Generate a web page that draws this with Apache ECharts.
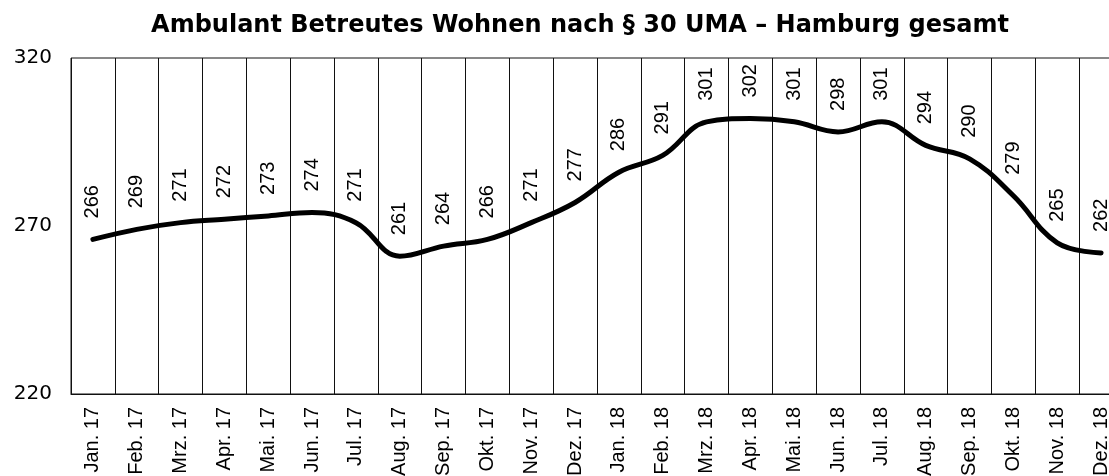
<!DOCTYPE html>
<html>
<head>
<meta charset="utf-8">
<title>Ambulant Betreutes Wohnen nach § 30 UMA</title>
<script src="https://cdn.jsdelivr.net/npm/echarts@6/dist/echarts.min.js"></script>
<style>
  html, body { margin: 0; padding: 0; background: #fff; overflow: hidden; }
  #linePlot { width: 1125px; height: 476px; }
</style>
</head>
<body>
<div id="linePlot"></div>
<script>
const chartTitle = "Ambulant Betreutes Wohnen nach § 30 UMA – Hamburg gesamt";

const months = [
  "Jan. 17", "Feb. 17", "Mrz. 17", "Apr. 17", "Mai. 17", "Jun. 17",
  "Jul. 17", "Aug. 17", "Sep. 17", "Okt. 17", "Nov. 17", "Dez. 17",
  "Jan. 18", "Feb. 18", "Mrz. 18", "Apr. 18", "Mai. 18", "Jun. 18",
  "Jul. 18", "Aug. 18", "Sep. 18", "Okt. 18", "Nov. 18", "Dez. 18",
];

const cases = [
  266, 269, 271, 272, 273, 274, 271, 261, 264, 266, 271, 277,
  286, 291, 301, 302, 301, 298, 301, 294, 290, 279, 265, 262,
];

const yTicks = { min: 220, max: 320, step: 50 };

const renderLine = () => {
  var chartDom = document.getElementById("linePlot");
  var myChart = echarts.init(chartDom);
  var option;

  option = {
    animation: false,
    title: {
      text: chartTitle,
      left: 575,
      top: 9,
      textAlign: "center",
      textStyle: {
        fontFamily: "DejaVu Sans",
        fontWeight: "bold",
        fontSize: 24,
        color: "#000",
      },
    },
    grid: {
      left: 71,
      right: 2,
      top: 58,
      bottom: 82,
      outerBoundsMode: "none",
      containLabel: false,
      show: true,
      borderColor: "#111",
      borderWidth: 1,
    },
    xAxis: {
      type: "category",
      data: months,
      boundaryGap: true,
      axisLine: { show: true, lineStyle: { color: "#111", width: 1 } },
      axisTick: { show: false },
      splitLine: {
        show: true,
        interval: 0,
        lineStyle: { color: "#111", width: 1 },
      },
      axisLabel: {
        interval: 0,
        rotate: 90,
        margin: 13,
        color: "#000",
        fontFamily: "Liberation Sans",
        fontSize: 20,
      },
    },
    yAxis: {
      type: "value",
      min: yTicks.min,
      max: yTicks.max,
      interval: yTicks.step,
      axisLine: { show: false },
      axisTick: { show: false },
      splitLine: { show: false },
      axisLabel: {
        margin: 19,
        color: "#000",
        fontFamily: "DejaVu Sans",
        fontSize: 20,
      },
    },
    series: [
      {
        name: "Hamburg gesamt",
        type: "line",
        data: cases,
        smooth: 0.4,
        showSymbol: true,
        symbol: "circle",
        symbolSize: 2,
        itemStyle: { color: "#000" },
        lineStyle: { color: "#000", width: 5, cap: "round", join: "round" },
        label: {
          show: true,
          position: "top",
          distance: 20,
          rotate: 90,
          align: "left",
          verticalAlign: "middle",
          color: "#000",
          fontFamily: "Liberation Sans",
          fontSize: 20,
        },
      },
    ],
  };

  option && myChart.setOption(option);
};

renderLine();
</script>
</body>
</html>
